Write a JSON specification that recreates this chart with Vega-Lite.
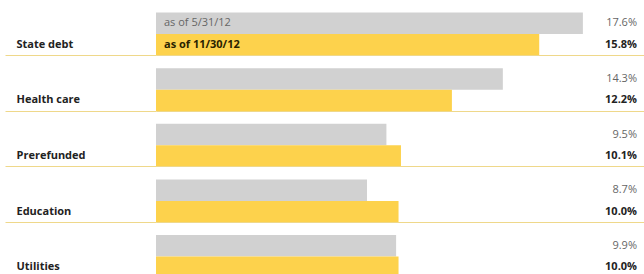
{
  "$schema": "https://vega.github.io/schema/vega-lite/v6.json",
  "autosize": {"type": "none"},
  "padding": {"left": 156, "top": 0, "right": 0, "bottom": 0},
  "width": 488,
  "height": 274,
  "background": "white",
  "view": {"stroke": null},
  "config": {"font": "Open Sans"},
  "data": {
    "values": [
      {"cat": "State debt", "series": "as of 5/31/12", "value": 0.176},
      {"cat": "State debt", "series": "as of 11/30/12", "value": 0.158},
      {"cat": "Health care", "series": "as of 5/31/12", "value": 0.143},
      {"cat": "Health care", "series": "as of 11/30/12", "value": 0.122},
      {"cat": "Prerefunded", "series": "as of 5/31/12", "value": 0.095},
      {"cat": "Prerefunded", "series": "as of 11/30/12", "value": 0.101},
      {"cat": "Education", "series": "as of 5/31/12", "value": 0.087},
      {"cat": "Education", "series": "as of 11/30/12", "value": 0.100},
      {"cat": "Utilities", "series": "as of 5/31/12", "value": 0.099},
      {"cat": "Utilities", "series": "as of 11/30/12", "value": 0.100}
    ]
  },
  "encoding": {
    "y": {
      "field": "cat",
      "type": "nominal",
      "sort": null,
      "scale": {"range": [0, 278], "paddingInner": 0, "paddingOuter": 0},
      "axis": {
        "title": null,
        "domain": false,
        "ticks": true,
        "tickSize": 151,
        "tickColor": "#efd88a",
        "tickWidth": 1,
        "bandPosition": 1,
        "grid": true,
        "gridColor": "#efd88a",
        "gridWidth": 1,
        "labelAlign": "left",
        "labelBaseline": "middle",
        "labelPadding": -11,
        "labelOffset": 17,
        "labelFont": "Open Sans",
        "labelFontWeight": "bold",
        "labelFontSize": 11,
        "labelColor": "#222222",
        "zindex": 1
      }
    },
    "yOffset": {
      "field": "series",
      "type": "nominal",
      "sort": ["as of 5/31/12", "as of 11/30/12"],
      "scale": {"paddingInner": 0, "paddingOuter": 0.293, "align": 1}
    }
  },
  "layer": [
    {
      "mark": {"type": "bar"},
      "encoding": {
        "x": {"field": "value", "type": "quantitative", "scale": {"domain": [0, 0.2012], "nice": false, "zero": true}, "axis": null},
        "color": {
          "field": "series",
          "type": "nominal",
          "scale": {"domain": ["as of 5/31/12", "as of 11/30/12"], "range": ["#d1d1d1", "#fdd24c"]},
          "legend": null
        }
      }
    },
    {
      "transform": [{"filter": "datum.series === 'as of 5/31/12'"}],
      "mark": {"type": "text", "align": "right", "baseline": "middle", "dx": -7, "fontSize": 11, "color": "#666666"},
      "encoding": {
        "x": {"value": "width"},
        "text": {"field": "value", "type": "quantitative", "format": ".1%"}
      }
    },
    {
      "transform": [{"filter": "datum.series === 'as of 11/30/12'"}],
      "mark": {"type": "text", "align": "right", "baseline": "middle", "dx": -7, "fontSize": 11, "fontWeight": "bold", "color": "#222222"},
      "encoding": {
        "x": {"value": "width"},
        "text": {"field": "value", "type": "quantitative", "format": ".1%"}
      }
    },
    {
      "transform": [{"filter": "datum.cat === 'State debt' && datum.series === 'as of 5/31/12'"}],
      "mark": {"type": "text", "align": "left", "baseline": "middle", "dx": 8, "fontSize": 11, "color": "#666666"},
      "encoding": {
        "x": {"datum": 0, "type": "quantitative"},
        "text": {"field": "series"}
      }
    },
    {
      "transform": [{"filter": "datum.cat === 'State debt' && datum.series === 'as of 11/30/12'"}],
      "mark": {"type": "text", "align": "left", "baseline": "middle", "dx": 8, "fontSize": 11, "fontWeight": "bold", "color": "#2a2200"},
      "encoding": {
        "x": {"datum": 0, "type": "quantitative"},
        "text": {"field": "series"}
      }
    }
  ]
}
